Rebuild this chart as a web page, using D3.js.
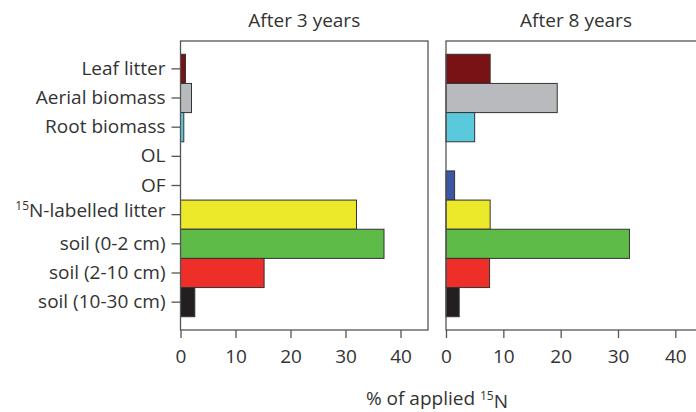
<html>
<head>
<meta charset="utf-8">
<title>15N recovery</title>
<style type="text/css">
    body { margin: 0; background: #fff; }
    text { font-family: "Open Sans", sans-serif; fill: #333; }
</style>
</head>
<body>
<script src="https://d3js.org/d3.v7.min.js"></script>
<script>

    // categories, top to bottom
    var categories = ["Leaf litter", "Aerial biomass", "Root biomass", "OL", "OF",
        "15N-labelled litter", "soil (0-2 cm)", "soil (2-10 cm)", "soil (10-30 cm)"];
    var barColors = ["#781214", "#b9babe", "#5bc9dc", "#ffffff", "#3a56a5",
        "#ece92b", "#5fbb47", "#ee2e28", "#231f20"];

    // % of applied 15N
    var after3 = [0.9, 2.0, 0.6, 0, 0, 32.0, 37.0, 15.2, 2.6];
    var after8 = [7.7, 19.4, 5.0, 0, 1.5, 7.7, 32.0, 7.6, 2.3];

    var panelTitles = ["After 3 years", "After 8 years"];
    var xTicks = [0, 10, 20, 30, 40];

    var W = 696, H = 412;
    var plotTop = 41, plotBottom = 330;
    var fontSize = "19px";

    var svg = d3.select("body").append("svg")
        .attr("width", W)
        .attr("height", H);

    var y = d3.scaleBand()
        .domain(categories)
        .range([plotTop, plotBottom])
        .paddingInner(0)
        .paddingOuter(0.455);

    // two panels, each its own x scale
    var panels = [
        {title: panelTitles[0], values: after3, x0: 180.5, x1: 428, ylabels: true},
        {title: panelTitles[1], values: after8, x0: 446, x1: 704, ylabels: false}
    ];

    panels.forEach(function(p) {
        var x = d3.scaleLinear().domain([0, 45]).range([p.x0, p.x1]);
        var g = svg.append("g");

        // bars
        g.selectAll(".bar")
            .data(p.values.map(function(v, i) { return {cat: categories[i], v: v, c: barColors[i]}; })
                .filter(function(d) { return d.v > 0; }))
            .enter().append("rect")
            .attr("x", x(0))
            .attr("y", function(d) { return y(d.cat); })
            .attr("width", function(d) { return x(d.v) - x(0); })
            .attr("height", y.bandwidth())
            .style("fill", function(d) { return d.c; })
            .style("stroke", "#333")
            .style("stroke-width", 1);

        // frame
        g.append("rect")
            .attr("x", x(0))
            .attr("y", plotTop)
            .attr("width", x(45) - x(0))
            .attr("height", plotBottom - plotTop)
            .style("fill", "none")
            .style("stroke", "#555")
            .style("stroke-width", 1.3);

        // x axis
        var xa = g.append("g")
            .attr("transform", "translate(0," + plotBottom + ")")
            .call(d3.axisBottom(x).tickValues(xTicks).tickSize(8).tickPadding(12));
        xa.select(".domain").remove();
        xa.selectAll("line").style("stroke", "#555").style("stroke-width", 1.3);
        xa.selectAll("text")
            .style("font-family", "'Open Sans', sans-serif")
            .style("font-size", fontSize)
            .style("fill", "#333");

        // y axis (only on left panel)
        if (p.ylabels) {
            var ya = g.append("g")
                .attr("transform", "translate(" + x(0) + ",0)")
                .call(d3.axisLeft(y).tickSize(9).tickPadding(6));
            ya.select(".domain").remove();
            ya.selectAll("line").style("stroke", "#555").style("stroke-width", 1.3);
            ya.selectAll("text")
                .style("font-family", "'Open Sans', sans-serif")
                .style("font-size", fontSize)
                .style("fill", "#333")
                .each(function(d) {
                    if (d.indexOf("15N") === 0) {
                        var t = d3.select(this).text(null);
                        t.append("tspan").attr("dy", "-0.4em").style("font-size", "12px").text("15");
                        t.append("tspan").attr("dy", "0.4em").text(d.slice(2));
                    }
                });
        }

        // panel title
        svg.append("text")
            .attr("x", p.ylabels ? (x(0) + x(45)) / 2 : 576)
            .attr("y", 27)
            .attr("text-anchor", "middle")
            .style("font-size", fontSize)
            .text(p.title);
    });

    // x axis title
    var xt = svg.append("text")
        .attr("x", 437)
        .attr("y", 405)
        .attr("text-anchor", "middle")
        .style("font-size", fontSize);
    xt.append("tspan").text("% of applied ");
    xt.append("tspan").attr("dy", "-0.4em").style("font-size", "12px").text("15");
    xt.append("tspan").attr("dy", "0.4em").text("N");

</script>
</body>
</html>
